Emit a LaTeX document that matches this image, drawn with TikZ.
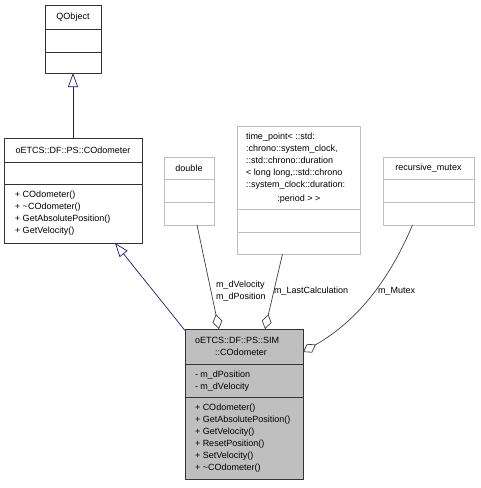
\documentclass[tikz,border=0pt]{standalone}
\usepackage{fontspec}
\setmainfont{Liberation Sans}
\usetikzlibrary{arrows.meta}

\begin{document}
\begin{tikzpicture}[x=1pt,y=-1pt] % SIM CODOMETER
    \newcommand\DrawClassBox[7][dark box]{%
        % #2 name, #3 top left corner, #4 width, #5 height
        \node[#1,minimum width=#4,minimum height=#5] (#2) at (#3) {};
        % the two compartment lines
        \draw[#1] ([yshift=-#6]#2.north west) -- ([yshift=-#6]#2.north east);
        \draw[#1] ([yshift=-#7]#2.north west) -- ([yshift=-#7]#2.north east);
    }

    \tikzset{%
        inner sep=0pt,%
        outer sep=0pt,%
        dark box/.style={draw=black!80,line width=0.9pt,anchor=north west},%
        faint box/.style={draw=black!25,line width=0.9pt,anchor=north west},%
        grey box/.style={dark box,fill=black!25},%
        class text/.style={font=\fontsize{9}{12}\selectfont},%
        list text/.style={class text,align=left,anchor=west},%
        inherit/.style={draw={rgb,255:red,25;green,25;blue,112},line width=0.7pt,
                -{Triangle[open,length=14pt,width=10pt]}},%
        uses/.style={draw=black!75,line width=0.7pt,
                -{Diamond[open,length=15pt,width=10pt]}}%
    }

    %% bounding box

    \useasboundingbox (0,0) rectangle (480,488);

    %% classes

    \DrawClassBox{QObject}{45,5}{56}{68}{24}{47}
    \DrawClassBox{COdometer}{4,138}{138}{105}{24}{46}
    \DrawClassBox[faint box]{double}{164,157}{50}{68}{22}{45}
    \DrawClassBox[faint box]{timepoint}{237,126}{123}{128}{83}{106}
    \DrawClassBox[faint box]{mutex}{383,157}{91}{68}{22}{45}
    \DrawClassBox[grey box]{SimOdometer}{185,329}{118}{150}{35}{68}

    %% class texts

    \node[class text] (QObject-name) at (73,17) {QObject};
    \node[class text] (COdometer-name) at (73,150) {oETCS::DF::PS::COdometer};
    \node[list text] (COdometer-ops) at (15,213.5)
        {+ COdometer()\\+ \textasciitilde COdometer()\\+ GetAbsolutePosition()\\+ GetVelocity()};
    \node[class text] (double-name) at (189,168) {double};
    \node[list text] (timepoint-name) at (246,161.3)
        {time\_point< ::std:\\:chrono::system\_clock,\\::std::chrono::duration\\%
         < long long,::std::chrono\\::system\_clock::duration:};
    \node[class text] (timepoint-tail) at (299,199) {:period > >};
    \node[class text] (mutex-name) at (428.5,168) {recursive\_mutex};
    \node[class text,anchor=west] (SimOdometer-name) at (195,340) {oETCS::DF::PS::SIM};
    \node[class text] (SimOdometer-tail) at (241,352) {::COdometer};
    \node[list text] (SimOdometer-attr) at (195,381) {- m\_dPosition\\- m\_dVelocity};
    \node[list text] (SimOdometer-ops) at (195,438)
        {+ COdometer()\\+ GetAbsolutePosition()\\+ GetVelocity()\\+ ResetPosition()\\%
         + SetVelocity()\\+ \textasciitilde COdometer()};

    %% inheritance

    \draw[inherit] (COdometer) -- (QObject);
    \draw[inherit] (SimOdometer) -- (COdometer);

    %% members

    \draw[uses] ([xshift=8pt]double.south) -- ([xshift=-25pt]SimOdometer.north);
    \draw[uses] ([xshift=-16pt]timepoint.south) -- ([xshift=21pt]SimOdometer.north);
    \draw[uses] ([xshift=-16pt]mutex.south) .. controls (385,290) and (350,325)
        .. ([yshift=52pt]SimOdometer.east);

    %% member labels

    \node[list text] (velocity-label) at (216,291) {m\_dVelocity\\m\_dPosition};
    \node[class text,anchor=west] (calc-label) at (274,291) {m\_LastCalculation};
    \node[class text,anchor=west] (mutex-label) at (378,291) {m\_Mutex};
\end{tikzpicture}
\end{document}
